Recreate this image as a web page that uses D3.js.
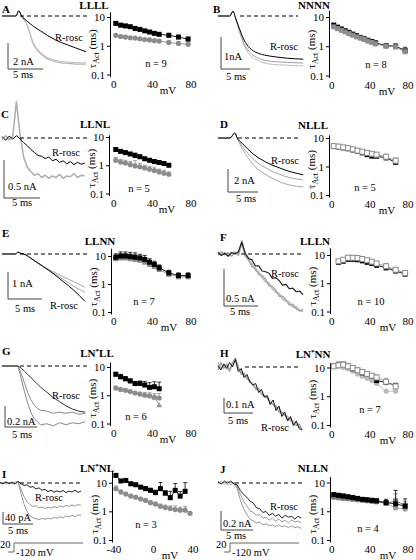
<!DOCTYPE html>
<html><head><meta charset="utf-8">
<script src="https://cdn.jsdelivr.net/npm/d3@7"></script>
<style>body{margin:0;background:#fff}svg{display:block}svg text{font-family:'Liberation Serif','Times New Roman',serif}</style>
</head><body><svg id="c" width="416" height="560"></svg>
<script>
// ---------- tau_Act data (mV, ms) ----------
const mvA=[2,7,12,17,22,27,32,37,42,47,57,67,77];
const tauA_k=[6.0,5.2,4.9,4.6,4.0,3.7,3.3,3.0,2.7,2.5,2.3,2.0,1.7];
const tauA_g=[2.3,2.1,2.0,1.9,1.85,1.75,1.65,1.6,1.5,1.45,1.3,1.2,1.12];
const semA_k=[0.4,0.3,0.3,0.3,0.3,0.2,0.2,0.2,0.2,0.2,0.4,0.3,0.3];
const semA_g=[0.2,0.2,0.15,0.15,0.15,0.15,0.15,0.15,0.15,0.15,0.15,0.15,0.2];
const mvB=[2,6,10,14,18,22,26,30,34,38,42,46,57,67,77];
const tauB_k=[5.3,4.5,3.9,3.4,3.0,2.6,2.3,2.0,1.8,1.6,1.45,1.3,1.05,1.0,0.72];
const tauB_g=[4.6,4.0,3.5,3.1,2.7,2.4,2.1,1.9,1.7,1.5,1.35,1.2,1.0,0.95,0.65];
const semB=[0.5,0.4,0.3,0.3,0.3,0.2,0.2,0.2,0.2,0.2,0.2,0.2,0.2,0.2,0.2];
const mvC=[2,7,12,17,22,27,32,37,42,47,52,57];
const tauC_k=[3.6,3.1,2.8,2.5,2.2,2.0,1.7,1.5,1.35,1.25,1.15,1.0];
const tauC_g=[1.5,1.3,1.2,1.05,0.95,0.88,0.8,0.72,0.65,0.58,0.52,0.48];
const semC=[0.4,0.3,0.3,0.3,0.5,0.3,0.2,0.2,0.2,0.15,0.15,0.1];
const mvD=[2,7,12,17,22,27,32,37,42,47,57,67];
const tauD_k=[5.0,4.8,4.5,4.2,3.8,3.4,3.0,2.6,2.3,2.3,2.0,1.4];
const tauD_g=[5.2,5.0,4.7,4.4,4.0,3.6,3.3,3.0,2.8,2.6,2.2,1.6];
const semD=[0.8,0.8,0.8,0.8,0.8,0.7,0.6,0.6,0.5,0.5,0.5,0.4];
const mvE=[2,7,12,17,22,27,32,37,42,47,57,67,77];
const tauE_k=[9,10,10,9.5,9,8.5,7.5,6,5,3.8,2.5,2.0,2.0];
const tauE_g=[8,8.5,8.5,8,7.5,7,6,5,4.2,3.3,2.2,1.8,1.8];
const semE=[3,4,4,4,4,3,3,2,1.5,1,0.6,0.5,0.5];
const mvF=[7,12,17,22,27,32,37,42,47,57,67,77];
const tauF_k=[5.5,6.0,7.0,7.0,6.8,6.2,5.5,5.0,4.3,3.5,2.7,2.1];
const tauF_g=[6,6.8,8,8,7.8,7.2,6.5,5.8,5,4.0,3.0,2.3];
const semF=[0.8,1,1.5,1.5,1.5,1.4,1.2,1.1,1,1,0.6,0.5];
const mvG=[2,7,12,17,22,27,32,37,42,47];
const tauG_k=[5.5,4.5,3.8,3.2,2.6,2.6,2.3,1.9,2.0,1.7];
const tauG_g=[1.8,1.6,1.5,1.35,1.2,1.1,1.0,0.95,0.85,0.8];
const mvG_l=[42,47];
const tauG_l=[0.85,0.45];
const semG=[1,1,0.8,0.6,0.5,0.6,0.8,0.9,1,1.2];
const mvH=[2,7,12,17,22,27,32,37,42,47,57,67];
const tauH_o=[11,12,12.5,11,9.5,8,7,6,5.2,4.5,3.2,2.2];
const tauH_l=[12,11,10,9,7.5,6,5,4.2,3.5,2.8,1.5,1.5];
const mvH_k=[7,12,17,22,27,32,37,42,47,57,67];
const tauH_k=[13,13,11,9,8,6.5,5.8,5,3.5,3.0,2.4];
const semH=[2,3,3,3,2,2,1.5,1.2,1,1,1,0.5];
const mvI_k=[-38,-33,-28,-23,-18,-13,-8,-3,2,7,12,17,22,27,32];
const tauI_k=[18,11.5,12,9.2,8.5,7,6.2,5.4,4.5,6.2,4.3,3,5.4,3.4,5];
const semI_k=[2,1,1,1,1,1,1,1,1,4,1,2,4,1.5,5];
const mvI_g=[-38,-33,-28,-23,-18,-13,-8,-3,2,7,12,17,22,27,32,37];
const tauI_g=[6.2,4.7,4.0,3.4,3.1,2.7,2.4,2.0,1.8,1.5,1.35,1.25,1.15,1.1,1.1,0.85];
const semI_g=[1.5,0.8,0.6,0.5,0.5,0.4,0.4,0.4,0.3,0.3,0.3,0.3,0.4,0.3,0.4,0.1];
const mvJ=[2,7,12,17,22,27,32,37,42,47,57,67,77];
const tauJ_k=[3.8,3.6,3.4,3.2,3.0,2.8,2.6,2.5,2.4,2.3,2.0,1.8,1.5];
const tauJ_g=[3.3,3.1,2.9,2.8,2.7,2.6,2.5,2.4,2.3,2.2,1.9,2.3,1.6];
const tauJ_l=[3.0,2.9,2.8,2.7,2.6,2.5,2.4,2.3,2.2,2.1,1.9,1.3,1.2];
const semJ=[0.6,0.5,0.5,0.4,0.4,0.4,0.4,0.4,0.4,0.4,0.6,3.5,1.2];

// ---------- current traces (time in ms) ----------
const t05=[0,0.5,1,1.5,2,2.5,3,3.5,4,4.5,5,5.5,6,6.5,7,7.5,8,8.5,9,9.5,10,10.5,11,11.5,12,12.5,13,13.5,14,14.5];
const tA=[0,1,2,2.4,2.8,3.5,4.5,5.5,6.5,7.5,8.5,9.5,10.5,12];
const iA_k=[0,0,0,0.4,0,-0.35,-0.8,-1.15,-1.5,-1.8,-2.05,-2.25,-2.45,-2.75];
const iA_g=[0,0,0,0.4,0,-0.6,-2.2,-2.9,-3.3,-3.5,-3.6,-3.65,-3.7,-3.7];
const iA_g2=[0,0,0,0.4,0,-0.55,-2.1,-2.8,-3.2,-3.4,-3.5,-3.55,-3.58,-3.6];
const tB=[0,1,2,2.6,3,3.5,4,4.5,5,6,7,8,10,12,14.7];
const iB_k=[0,0,0,0.15,-0.05,-0.3,-0.54,-0.75,-0.9,-1.08,-1.17,-1.22,-1.28,-1.32,-1.35];
const iB_g=[0,0,0,0.15,-0.05,-0.35,-0.62,-0.86,-1.02,-1.22,-1.32,-1.38,-1.43,-1.45,-1.47];
const iB_g2=[0,0,0,0.15,-0.05,-0.38,-0.66,-0.92,-1.1,-1.3,-1.4,-1.47,-1.52,-1.54,-1.56];
const iC_k=[20,-30,25,-15,30,-10,-60,-100,-150,-190,-230,-240,-270,-250,-300,-280,-320,-300,-340,-310,-350,-320,-345,-330];
const iC_g=[-20,30,-25,20,480,50,-250,-380,-440,-490,-470,-520,-490,-530,-500,-520,-480,-530,-500,-510,-470,-520,-490,-500];
const tD=[0,1,2,2.8,3.2,4,5,6,7,8,9,10,11,12,14.2];
const iD_k=[0,0,0,0.43,0,-0.45,-0.98,-1.45,-1.8,-2.1,-2.35,-2.55,-2.75,-2.92,-3.2];
const iD_g=[0,0,0,0.43,0,-0.7,-1.35,-1.9,-2.3,-2.6,-2.9,-3.1,-3.3,-3.45,-3.65];
const iD_g2=[0,0,0,0.43,0,-0.9,-1.7,-2.4,-2.85,-3.2,-3.5,-3.75,-3.95,-4.1,-4.26];
const tE=[0,1,2,2.35,2.8,3.2,4.6,6.1,7.5,9,10.5,12.2];
const iE_k=[0,0,0,0.07,0.02,0,-0.22,-0.47,-0.72,-1.02,-1.33,-1.75];
const iE_g=[0,0,0,0.07,0.02,0,-0.22,-0.46,-0.65,-0.84,-1.02,-1.23];
const iE_g2=[0,0,0,0.07,0.02,0,-0.22,-0.47,-0.69,-0.94,-1.19,-1.42];
const iF_k=[0.02,-0.02,0.01,-0.03,0.02,0.0,0.03,0.16,0.01,-0.06,-0.08,-0.16,-0.16,-0.23,-0.24,-0.26,-0.33,-0.32,-0.36,-0.42,-0.41,-0.47,-0.46,-0.51,-0.5,-0.55];
const iF_g=[-0.02,0.03,-0.01,0.02,-0.03,0.02,-0.01,0.18,-0.01,-0.07,-0.17,-0.19,-0.28,-0.29,-0.34,-0.43,-0.44,-0.49,-0.57,-0.57,-0.62,-0.69,-0.68,-0.74,-0.77,-0.75];
const iF_g2=[0.03,-0.01,0.02,-0.02,0.01,0.03,-0.02,0.14,-0.03,-0.09,-0.13,-0.22,-0.24,-0.32,-0.38,-0.39,-0.47,-0.52,-0.53,-0.61,-0.64,-0.65,-0.72,-0.71,-0.76,-0.78];
const tG=[0,1,2,2.5,3,3.5,4,4.5,5,5.5,6,7,8,9,10,11,12,13];
const iG_k=[0,0,0,0,-0.02,-0.05,-0.08,-0.11,-0.14,-0.17,-0.2,-0.25,-0.3,-0.34,-0.38,-0.41,-0.43,-0.44];
const iG_g=[0,0,0,0,-0.07,-0.16,-0.25,-0.32,-0.37,-0.4,-0.42,-0.43,-0.45,-0.44,-0.45,-0.44,-0.46,-0.45];
const iG_g2=[0,0,0,0,-0.12,-0.24,-0.35,-0.44,-0.5,-0.53,-0.56,-0.55,-0.57,-0.54,-0.56,-0.54,-0.55,-0.53];
const iH_k=[0.01,-0.02,0.02,-0.01,0.03,0.0,0.05,-0.03,-0.01,-0.07,-0.05,-0.1,-0.12,-0.11,-0.17,-0.15,-0.2,-0.19,-0.25,-0.22,-0.29,-0.26,-0.33,-0.3,-0.36,-0.33,-0.39,-0.36,-0.41,-0.42];
const iH_g=[-0.02,0.03,-0.01,0.02,-0.02,0.03,0.06,0.0,-0.05,-0.04,-0.08,-0.09,-0.12,-0.14,-0.15,-0.18,-0.2,-0.2,-0.24,-0.25,-0.26,-0.3,-0.3,-0.32,-0.35,-0.34,-0.38,-0.39,-0.38,-0.42];
const iH_g2=[0.03,-0.01,0.02,0.0,-0.03,0.02,0.05,-0.01,-0.03,-0.06,-0.07,-0.1,-0.11,-0.15,-0.14,-0.18,-0.19,-0.21,-0.23,-0.25,-0.27,-0.27,-0.31,-0.32,-0.33,-0.36,-0.36,-0.38,-0.4,-0.41];
const iI_k=[2,-3,4,-2,3,-4,6,-3,-8,-6,-14,-12,-20,-16,-24,-21,-29,-24,-31,-26,-30,-25,-32,-27,-30,-24,-31,-27];
const iI_g=[-2,3,-3,2,-3,3,5,-20,-45,-62,-72,-78,-76,-83,-80,-85,-81,-84,-79,-82,-76,-80,-75,-78,-73,-77,-72,-75];
const iI_g2=[1,-2,3,-3,2,-2,4,-35,-70,-95,-110,-116,-119,-122,-118,-121,-117,-120,-114,-118,-112,-116,-110,-113,-108,-112,-106,-109];
const iJ_k=[0.01,-0.01,0.02,0.0,0.02,-0.01,-0.02,-0.08,-0.12,-0.15,-0.19,-0.21,-0.26,-0.27,-0.31,-0.3,-0.34,-0.32,-0.35,-0.33,-0.37,-0.34,-0.36,-0.35,-0.38,-0.35,-0.37];
const iJ_g=[-0.01,0.02,-0.01,0.02,-0.02,0.01,-0.04,-0.12,-0.19,-0.24,-0.29,-0.31,-0.34,-0.33,-0.37,-0.36,-0.39,-0.37,-0.4,-0.38,-0.41,-0.39,-0.42,-0.39,-0.41,-0.4,-0.42];
const iJ_g2=[0.02,-0.01,0.01,-0.02,0.01,-0.01,-0.06,-0.18,-0.27,-0.33,-0.38,-0.4,-0.42,-0.41,-0.44,-0.43,-0.45,-0.44,-0.46,-0.44,-0.46,-0.45,-0.47,-0.45,-0.47,-0.46,-0.48];

// ---------- drawing ----------
const FONT="'Liberation Serif','Times New Roman',serif";
const K='#000', GR='#8c8c8c', LG='#bcbcbc';
const svg=d3.select('#c');
function text(g,x,y,s,o={}){
  return g.append('text').attr('x',x).attr('y',y).attr('font-family',FONT)
    .attr('font-size',o.size||11).attr('font-weight',o.bold?'bold':'normal')
    .attr('text-anchor',o.anchor||'start').attr('fill','#000').text(s);
}
function title(g,x,y,s){
  const t=g.append('text').attr('x',x).attr('y',y).attr('font-family',FONT).attr('font-size',11)
   .attr('font-weight','bold').attr('text-anchor','middle');
  const m=s.split('*');
  t.append('tspan').text(m[0]);
  if(m.length>1){t.append('tspan').attr('dy',-4).attr('font-size',7).text('*');t.append('tspan').attr('dy',4).text(m[1]);}
}
function tauChart(g,c){
  const y=d3.scaleLog().domain([0.1,10]).range([c.y01,c.y10]);
  const ya=d3.scaleLog().domain([0.085,c.yTop]).range([y(0.085),y(c.yTop)]);
  const x=d3.scaleLinear().domain(c.xDom).range(c.xRange);
  const ax=g.append('g').attr('transform',`translate(${c.ax},0)`)
   .call(d3.axisLeft(ya).tickValues([0.1,1,10]).tickFormat(d=>d<1?'0.1':String(d)).tickSize(3).tickSizeOuter(0).tickPadding(2));
  ax.attr('font-family',FONT).attr('font-size',11);
  ax.selectAll('path,line').attr('stroke','#000');
  ax.selectAll('text').attr('fill','#000');
  c.xTicks.forEach(v=>text(g,x(v),c.y01+13,String(v),{anchor:'middle'}));
  text(g,c.ax+58,c.y01+19,'mV',{anchor:'middle'});
  const yl=g.append('text').attr('transform',`translate(${c.ax-14},${(c.y10+c.y01)/2+3}) rotate(-90)`)
    .attr('font-family',FONT).attr('font-size',11).attr('text-anchor','middle');
  yl.append('tspan').text('τ');
  yl.append('tspan').attr('dy',2.5).attr('font-size',8).text('Act');
  yl.append('tspan').attr('dy',-2.5).text(' (ms)');
  title(g,c.tx,c.ty,c.title);
  text(g,c.nx,c.ny,'n = '+c.n,{anchor:'middle',size:10.5});
  c.series.forEach(s=>{
    const pts=s.x.map((v,i)=>({x:v,y:s.y[i],e:s.e?s.e[i]:0}));
    g.append('path').datum(pts).attr('d',d3.line().x(d=>x(d.x)).y(d=>y(d.y)))
      .attr('fill','none').attr('stroke',s.color).attr('stroke-width',0.9);
    const eb=g.append('g').attr('stroke',s.color).attr('stroke-width',0.8);
    pts.filter(d=>d.e>0).forEach(d=>{
      const x0=x(d.x), y1=y(d.y), y2=y(d.y+d.e);
      eb.append('line').attr('x1',x0).attr('x2',x0).attr('y1',y1).attr('y2',y2);
      eb.append('line').attr('x1',x0-2).attr('x2',x0+2).attr('y1',y2).attr('y2',y2);
    });
    const mk=g.append('g');
    pts.forEach(d=>{
      const px=x(d.x), py=y(d.y);
      if(s.shape==='circle') mk.append('circle').attr('cx',px).attr('cy',py).attr('r',2.6).attr('fill',s.color);
      else if(s.shape==='tri') mk.append('path').attr('d',`M${px},${py-3}L${px+3},${py+2.2}L${px-3},${py+2.2}Z`).attr('fill',s.color);
      else mk.append('rect').attr('x',px-2.5).attr('y',py-2.5).attr('width',5).attr('height',5)
        .attr('fill',s.open?'#fff':s.color).attr('stroke',s.color).attr('stroke-width',s.open?1:0);
    });
  });
}
function tracePanel(g,c){
  const x=d3.scaleLinear().domain([0,1]).range([c.x0,c.x0+c.pxPerMs]);
  const y=d3.scaleLinear().domain([0,1]).range([c.base,c.base-c.pxPerUnit]);
  c.traces.forEach(tr=>{
    const t=tr.t||t05;
    g.append('path').datum(tr.v).attr('d',d3.line().x((d,i)=>x(t[i])).y(d=>y(d)).curve(tr.smooth?d3.curveMonotoneX:d3.curveLinear))
      .attr('fill','none').attr('stroke',tr.color).attr('stroke-width',tr.w||1).attr('stroke-linejoin','round');
  });
  g.append('line').attr('x1',c.dash[0]).attr('x2',c.dash[1]).attr('y1',y(0)).attr('y2',y(0))
    .attr('stroke','#000').attr('stroke-width',1).attr('stroke-dasharray','4,3');
  const vb=y(0)-y(c.barUnit), hb=x(5)-x(0);
  g.append('path').attr('d',`M${c.bx},${c.bTop}V${c.bTop+vb}H${c.bx+hb}`).attr('fill','none').attr('stroke','#444').attr('stroke-width',1);
  text(g,c.vl[0],c.vl[1],c.vLabel,{size:10.5});
  text(g,c.hl[0],c.hl[1],'5 ms',{size:10.5});
  text(g,c.rl[0],c.rl[1],'R-rosc',{size:10.5});
  text(g,c.letter[0],c.letter[1],c.L,{bold:true,size:11});
}
function protocol(g,x0,y){
  g.append('path').attr('d',`M${x0-6},${y+9}H${x0}V${y}H${x0+69}`).attr('fill','none').attr('stroke','#666').attr('stroke-width',1);
  text(g,x0-14,y+5,'20',{size:10.5});
  text(g,x0+2,y+13,'-120 mV',{size:10.5});
}
const g=svg.append('g');
const LX=[-4,80], LR=[110,191], RX=[-3,80], RR=[329,408];
// A
tracePanel(g,{L:'A',letter:[2,13],x0:2,pxPerMs:7,base:16,pxPerUnit:13,dash:[20,88],bx:8,bTop:43,barUnit:2,
  vLabel:'2 nA',vl:[13,65],hl:[13,78],rl:[55,41],
  traces:[{t:tA,v:iA_g,color:'#b4b4b4',w:1.2,smooth:1},{t:tA,v:iA_g2,color:'#c4c4c4',w:1.2,smooth:1},{t:tA,v:iA_k,color:K,smooth:1}]});
tauChart(g,{ax:110,y10:17,y01:74.5,yTop:15,xDom:LX,xRange:LR,xTicks:[0,40,80],title:'LLLL',tx:94,ty:9,n:9,nx:156,ny:67,
  series:[{x:mvA,y:tauA_g,e:semA_g,color:GR,shape:'circle'},{x:mvA,y:tauA_k,e:semA_k,color:K}]});
// B
tracePanel(g,{L:'B',letter:[213,13],x0:218,pxPerMs:5.8,base:16,pxPerUnit:32,dash:[240,298],bx:221,bTop:37,barUnit:1,
  vLabel:'1nA',vl:[224,60],hl:[226,80],rl:[270,50],
  traces:[{t:tB,v:iB_g2,color:LG,smooth:1},{t:tB,v:iB_g,color:'#a0a0a0',smooth:1},{t:tB,v:iB_k,color:K,smooth:1}]});
tauChart(g,{ax:329,y10:17,y01:75.5,yTop:17,xDom:RX,xRange:RR,xTicks:[0,40,80],title:'NNNN',tx:314,ty:9,n:8,nx:376,ny:68,
  series:[{x:mvB,y:tauB_k,e:semB,color:K},{x:mvB,y:tauB_g,e:semB,color:GR}]});
// C
tracePanel(g,{L:'C',letter:[1,118],x0:2,pxPerMs:7.2,base:138,pxPerUnit:0.076,dash:[20,88],bx:4,bTop:160,barUnit:500,
  vLabel:'0.5 nA',vl:[8,190],hl:[12,206],rl:[52,156],
  traces:[{v:iC_g,color:'#b0b0b0',w:1.6},{v:iC_k,color:K}]});
tauChart(g,{ax:109,y10:137,y01:193.5,yTop:12,xDom:LX,xRange:LR,xTicks:[0,40,80],title:'LLNL',tx:95,ty:128,n:5,nx:139,ny:192,
  series:[{x:mvC,y:tauC_g,e:semC,color:GR,shape:'circle'},{x:mvC,y:tauC_k,e:semC,color:K}]});
// D
tracePanel(g,{L:'D',letter:[220,128],x0:218,pxPerMs:6,base:138,pxPerUnit:11.5,dash:[238,300],bx:228,bTop:169,barUnit:2,
  vLabel:'2 nA',vl:[234,184],hl:[236,202],rl:[271,164],
  traces:[{t:tD,v:iD_g2,color:'#a8a8a8',smooth:1},{t:tD,v:iD_g,color:'#a8a8a8',smooth:1},{t:tD,v:iD_k,color:K,smooth:1}]});
tauChart(g,{ax:329,y10:138,y01:195,yTop:13,xDom:RX,xRange:RR,xTicks:[0,40,80],title:'NLLL',tx:313,ty:129,n:5,nx:365,ny:191,
  series:[{x:mvD,y:tauD_k,color:K},{x:mvD,y:tauD_g,e:semD,color:GR,open:1}]});
// E
tracePanel(g,{L:'E',letter:[2,237],x0:2,pxPerMs:6.8,base:254,pxPerUnit:27,dash:[20,88],bx:8,bTop:272,barUnit:1,
  vLabel:'1 nA',vl:[12,287],hl:[15,312],rl:[50,309],
  traces:[{t:tE,v:iE_g,color:'#a8a8a8',smooth:1},{t:tE,v:iE_g2,color:'#a8a8a8',smooth:1},{t:tE,v:iE_k,color:K,smooth:1}]});
tauChart(g,{ax:111,y10:256,y01:312,yTop:19,xDom:LX,xRange:LR,xTicks:[0,40,80],title:'LLNN',tx:100,ty:245,n:7,nx:144,ny:305,
  series:[{x:mvE,y:tauE_g,e:semE,color:GR},{x:mvE,y:tauE_k,e:semE,color:K}]});
// F
tracePanel(g,{L:'F',letter:[220,241],x0:218,pxPerMs:6.8,base:254,pxPerUnit:74,dash:[241,303],bx:224,bTop:269,barUnit:0.5,
  vLabel:'0.5 nA',vl:[226,302],hl:[230,315],rl:[271,277],
  traces:[{v:iF_g2,color:LG,w:1.5},{v:iF_g,color:'#a6a6a6',w:1.5},{v:iF_k,color:'#222',w:1.2}]});
tauChart(g,{ax:330,y10:255,y01:311.5,yTop:18,xDom:RX,xRange:RR,xTicks:[0,40,80],title:'LLLN',tx:315,ty:245,n:10,nx:371,ny:305,
  series:[{x:mvF,y:tauF_k,color:K},{x:mvF,y:tauF_g,e:semF,color:GR,open:1}]});
// G
tracePanel(g,{L:'G',letter:[2,355],x0:2,pxPerMs:6.4,base:366,pxPerUnit:105,dash:[20,88],bx:5,bTop:406,barUnit:0.2,
  vLabel:'0.2 nA',vl:[7,425],hl:[12,438],rl:[52,399],
  traces:[{t:tG,v:iG_g2,color:'#8a8a8a'},{t:tG,v:iG_g,color:'#8a8a8a'},{t:tG,v:iG_k,color:'#333'}]});
tauChart(g,{ax:110,y10:367,y01:423.5,yTop:15,xDom:LX,xRange:LR,xTicks:[0,40,80],title:'LN*LL',tx:97,ty:357,n:6,nx:136,ny:420,
  series:[{x:mvG_l,y:tauG_l,color:'#999',shape:'tri'},{x:mvG,y:tauG_g,e:semG.map(v=>v*0.3),color:GR,shape:'circle'},{x:mvG,y:tauG_k,e:semG,color:K}]});
// H
tracePanel(g,{L:'H',letter:[220,357],x0:218,pxPerMs:5.8,base:367,pxPerUnit:150,dash:[245,301],bx:224,bTop:398,barUnit:0.1,
  vLabel:'0.1 nA',vl:[226,408],hl:[228,424],rl:[261,431],
  traces:[{v:iH_g2,color:LG,w:1.5},{v:iH_g,color:'#9a9a9a',w:1.3},{v:iH_k,color:'#111'}]});
tauChart(g,{ax:330,y10:367.5,y01:425,yTop:15,xDom:RX,xRange:RR,xTicks:[0,40,80],title:'LN*NN',tx:313,ty:358,n:7,nx:370,ny:413,
  series:[{x:mvH,y:tauH_l,color:LG,shape:'circle'},{x:mvH_k,y:tauH_k,color:K},{x:mvH,y:tauH_o,e:semH,color:GR,open:1}]});
// I
tracePanel(g,{L:'I',letter:[2,478],x0:0,pxPerMs:6,base:483,pxPerUnit:0.3,dash:[20,83],bx:3,bTop:512,barUnit:40,
  vLabel:'40 pA',vl:[5,521],hl:[8,534],rl:[35,501],
  traces:[{v:iI_g2,color:'#999'},{v:iI_g,color:'#999'},{v:iI_k,color:'#222'}]});
protocol(g,14,543);
tauChart(g,{ax:112,y10:482.7,y01:540,yTop:27,xDom:[-44,40],xRange:[110,193],xTicks:[-40,0,40],title:'LN*NL',tx:97,ty:472,n:3,nx:146,ny:528,
  series:[{x:mvI_g,y:tauI_g,e:semI_g,color:GR,shape:'circle'},{x:mvI_k,y:tauI_k,e:semI_k,color:K}]});
// J
tracePanel(g,{L:'J',letter:[220,473],x0:218,pxPerMs:6.4,base:483,pxPerUnit:95,dash:[235,303],bx:221,bTop:511,barUnit:0.2,
  vLabel:'0.2 nA',vl:[223,527],hl:[226,539],rl:[270,510],
  traces:[{v:iJ_g2,color:'#999'},{v:iJ_g,color:'#999'},{v:iJ_k,color:'#222'}]});
protocol(g,230,543);
tauChart(g,{ax:330,y10:482.5,y01:540,yTop:16,xDom:RX,xRange:RR,xTicks:[0,40,80],title:'NLLN',tx:313,ty:472,n:4,nx:368,ny:532,
  series:[{x:mvJ,y:tauJ_l,color:'#999',shape:'circle'},{x:mvJ,y:tauJ_g,e:semJ.map(v=>v*0.5),color:'#777'},{x:mvJ,y:tauJ_k,e:semJ,color:K}]});
</script></body></html>
